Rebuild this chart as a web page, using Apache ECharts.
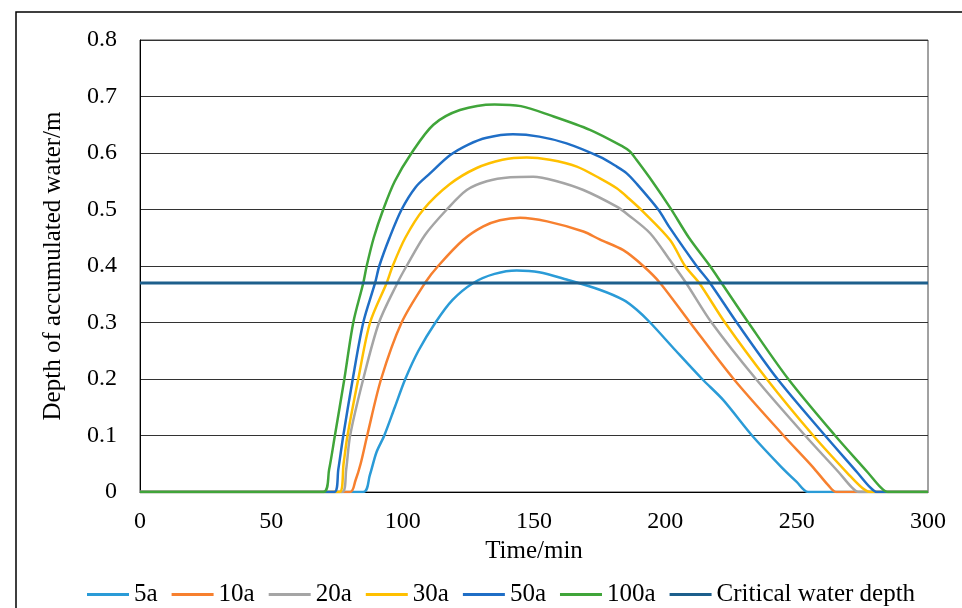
<!doctype html>
<html lang="en">
<head>
    <meta charset="utf-8" />
    <title>Depth of accumulated water</title>
    <script src="https://cdn.jsdelivr.net/npm/echarts@6/dist/echarts.min.js"></script>
    <style type="text/css">
        html, body { margin: 0; padding: 0; background: #fff; }
        #chart { width: 962px; height: 608px; }
    </style>
</head>
<body>
<div id="chart"></div>
<script>
    // [time (min), depth (m)]
    var s5a = [[0,0],[85,0],[87.5,0.03],[90,0.07],[93,0.1],[97,0.15],[101,0.2],[106,0.25],[112.5,0.3],[119,0.34],
        [126.9,0.37],[135,0.386],[143.4,0.392],[152,0.389],[162.4,0.376],[175,0.358],[184,0.34],[189,0.323],
        [194.2,0.3],[204,0.25],[214,0.2],[222,0.163],[233,0.1],[244,0.045],[250,0.018],[254.4,0],[300,0]];
    var s10a = [[0,0],[80,0],[82,0.02],[84,0.05],[86.5,0.1],[91.8,0.2],[99.6,0.3],[108.5,0.37],[113.5,0.4],[123,0.446],
        [130.7,0.47],[137,0.481],[144.7,0.4855],[155,0.479],[168.8,0.461],[175,0.447],[184,0.428],[191.6,0.4],
        [198,0.37],[209.4,0.3],[226,0.2],[245,0.1],[256,0.045],[262,0.012],[265,0],[300,0]];
    var s20a = [[0,0],[77,0],[78.5,0.04],[80,0.1],[85,0.2],[91,0.3],[98,0.37],[101.5,0.4],[108.5,0.455],[116.8,0.5],
        [124.4,0.5345],[132,0.55],[141,0.557],[149.7,0.558],[158,0.551],[168.8,0.5345],[181.5,0.505],[186,0.49],
        [194.2,0.458],[201.8,0.41],[207.9,0.37],[217.6,0.3],[234.5,0.2],[253.2,0.1],[266,0.035],[271,0.008],
        [273.5,0],[300,0]];
    var s30a = [[0,0],[76,0],[77.5,0.05],[79,0.1],[83.1,0.2],[87.6,0.3],[93.9,0.37],[96.2,0.4],[101,0.45],[107.9,0.5],
        [118,0.545],[128,0.573],[138,0.588],[147.2,0.592],[156,0.588],[166.3,0.576],[175.1,0.555],[181.5,0.5375],
        [186,0.52],[191.6,0.496],[201.8,0.446],[207.5,0.4],[212.9,0.37],[222.7,0.3],[238.6,0.2],[256.3,0.1],
        [270,0.03],[275,0.007],[278,0],[300,0]];
    var s50a = [[0,0],[74,0],[75.5,0.04],[77.4,0.1],[81,0.2],[85,0.3],[89.5,0.37],[91.1,0.4],[95,0.45],[99.6,0.5],
        [105,0.54],[110.4,0.564],[118,0.596],[125,0.615],[132,0.627],[142,0.633],[152,0.629],[162.4,0.617],
        [175.1,0.593],[181.5,0.576],[185.3,0.564],[189,0.546],[197.3,0.5],[201.8,0.467],[211.9,0.4],[217,0.37],
        [227.2,0.3],[242.7,0.2],[260.8,0.1],[273,0.035],[278,0.008],[280.5,0],[300,0]];
    var s100a = [[0,0],[69.8,0],[72,0.04],[74.2,0.1],[77.8,0.2],[81.2,0.3],[85,0.37],[86.3,0.4],[89,0.45],[92.6,0.5],
        [97,0.55],[103.4,0.6],[111.7,0.65],[121.8,0.676],[135,0.686],[145,0.683],[156,0.667],[171.3,0.641],
        [184,0.611],[186.5,0.603],[189,0.588],[195,0.55],[202,0.502],[209,0.45],[217,0.4],[221.4,0.37],
        [231.6,0.3],[246.8,0.2],[264.6,0.1],[277,0.035],[282,0.008],[284.6,0],[300,0]];
    var critical = [[0,0.37],[300,0.37]];

    var names = ['5a', '10a', '20a', '30a', '50a', '100a', 'Critical water depth'];
    var datas = [s5a, s10a, s20a, s30a, s50a, s100a, critical];
    var colors = ['#2A9BD7', '#F7802F', '#A5A5A5', '#FFC000', '#1F6EC6', '#40A53A', '#1D5F8C'];

    var font = 'Liberation Serif, Times New Roman, serif';

    var series = [];
    for (var i = 0; i < names.length; i++) {
        var isCrit = i == names.length - 1;
        series.push({
            name: names[i],
            type: 'line',
            data: datas[i],
            smooth: isCrit ? false : 0.3,
            showSymbol: false,
            symbol: 'none',
            color: colors[i],
            lineStyle: { width: isCrit ? 3 : 2.5, color: colors[i] }
        });
    }

    var chart = echarts.init(document.getElementById('chart'));
    chart.setOption({
        animation: false,
        textStyle: { fontFamily: font },
        graphic: [{
            type: 'rect',
            shape: { x: 16, y: 12, width: 1000, height: 1000 },
            style: { fill: 'none', stroke: '#000', lineWidth: 1.5 },
            silent: true
        }],
        grid: {
            left: 140, right: 34, top: 40, bottom: 116,
            show: true, borderColor: '#444', borderWidth: 1
        },
        legend: {
            data: names,
            left: 82, top: 577,
            icon: 'rect',
            itemWidth: 42, itemHeight: 3,
            itemGap: 14,
            textStyle: { fontFamily: font, fontSize: 25, color: '#000' }
        },
        xAxis: {
            type: 'value',
            min: 0, max: 300, interval: 50,
            name: 'Time/min',
            nameLocation: 'middle',
            nameGap: 47,
            nameTextStyle: { fontFamily: font, fontSize: 25, color: '#000' },
            axisLine: { lineStyle: { color: '#000', width: 1 } },
            axisTick: { show: false },
            axisLabel: { margin: 18, fontFamily: font, fontSize: 24, color: '#000' },
            splitLine: { show: false }
        },
        yAxis: {
            type: 'value',
            min: 0, max: 0.8, interval: 0.1,
            name: 'Depth of accumulated water/m',
            nameLocation: 'middle',
            nameGap: 74,
            nameTextStyle: { fontFamily: font, fontSize: 25, color: '#000' },
            axisLine: { show: true, lineStyle: { color: '#000', width: 1 } },
            axisTick: { show: false },
            axisLabel: { margin: 23, fontFamily: font, fontSize: 24, color: '#000' },
            splitLine: { lineStyle: { color: '#333', width: 1.2 } }
        },
        series: series
    });
</script>
</body>
</html>
